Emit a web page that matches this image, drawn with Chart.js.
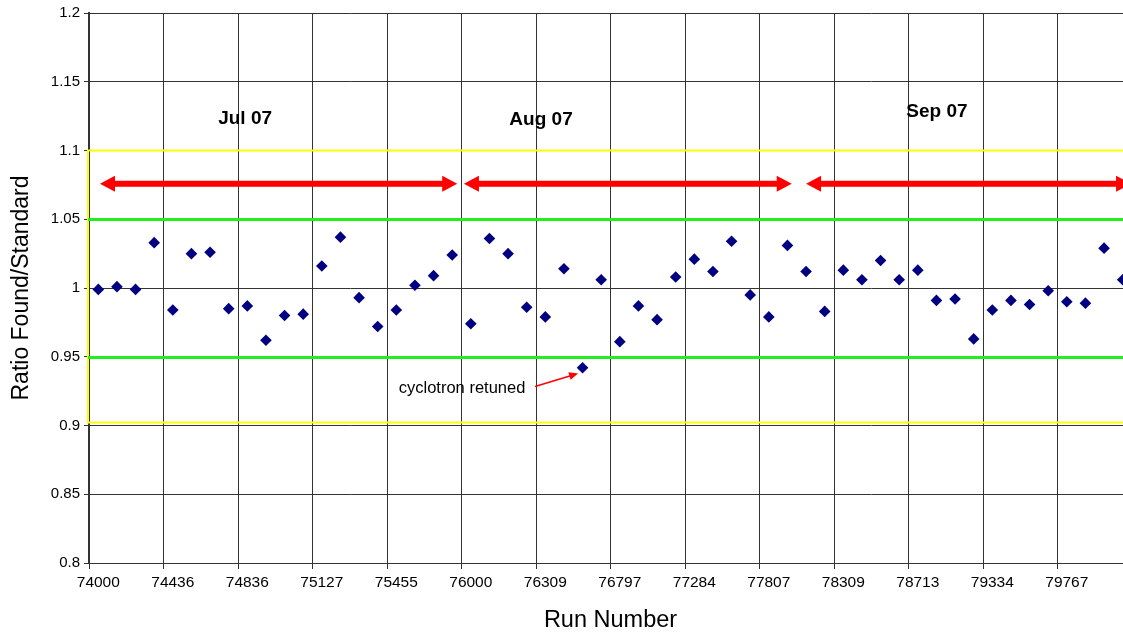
<!DOCTYPE html>
<html>
<head>
<meta charset="utf-8">
<title>Ratio Found/Standard by Run Number</title>
<script src="https://cdn.jsdelivr.net/npm/chart.js@4.4.1/dist/chart.umd.min.js"></script>
<style>
  html, body { margin: 0; padding: 0; background: #fff; overflow: hidden; }
  #wrap { width: 1123px; height: 635px; overflow: hidden; position: relative; }
  canvas { display: block; }
</style>
</head>
<body>
<div id="wrap"><canvas id="c" width="1160" height="635"></canvas></div>
<script>
// Run-number labels shown on every fourth run
const runTicks = ['74000', '74436', '74836', '75127', '75455', '76000', '76309',
                  '76797', '77284', '77807', '78309', '78713', '79334', '79767'];

// Ratio of found to standard value, one per run
const ratios = [
  0.999, 1.001, 0.999, 1.033, 0.984, 1.025, 1.026, 0.985,
  0.987, 0.962, 0.980, 0.981, 1.016, 1.037, 0.993, 0.972,
  0.984, 1.002, 1.009, 1.024, 0.974, 1.036, 1.025, 0.986,
  0.979, 1.014, 0.942, 1.006, 0.961, 0.987, 0.977, 1.008,
  1.021, 1.012, 1.034, 0.995, 0.979, 1.031, 1.012, 0.983,
  1.013, 1.006, 1.020, 1.006, 1.013, 0.991, 0.992, 0.963,
  0.984, 0.991, 0.988, 0.998, 0.990, 0.989, 1.029, 1.006
];

// Month names for the run periods
const months = ['Jul 07', 'Aug 07', 'Sep 07'];

// Acceptance limits
const warnLimits = [0.95, 1.05];
const outerLimits = [0.9025, 1.1];

// One category per run; only every fourth carries its run number
const labels = ratios.map((_, i) => (i % 4 === 0 ? (runTicks[i / 4] || '') : ''));

// Annotation layout, in run-index / ratio units
const periodArrows = [[0.09, 19.27], [19.63, 37.23], [38.0, 55.45]];
const arrowLevel = 1.0758;
const monthLabelPos = [[7.88, 1.123], [23.77, 1.1223], [45.03, 1.128]];
const noteText = 'cyclotron retuned';
const notePos = [19.53, 0.9273];
const noteArrow = [[23.45, 0.9284], [25.76, 0.9379]];

const FONT = '"Liberation Sans", Arial, sans-serif';
Chart.defaults.font.family = FONT;
Chart.defaults.color = '#000';

function drawArrowHead(ctx, tipX, tipY, dir, len, half) {
  ctx.beginPath();
  ctx.moveTo(tipX, tipY);
  ctx.lineTo(tipX - dir * len, tipY - half);
  ctx.lineTo(tipX - dir * len, tipY + half);
  ctx.closePath();
  ctx.fill();
}

const limitLines = {
  id: 'limitLines',
  beforeDatasetsDraw(chart) {
    const { ctx, chartArea: a, scales: { y } } = chart;
    ctx.save();
    // yellow outer box
    ctx.strokeStyle = '#ffff00';
    ctx.lineWidth = 2;
    const yTop = Math.round(y.getPixelForValue(outerLimits[1])) + 0.5;
    const yBot = Math.round(y.getPixelForValue(outerLimits[0])) + 0.5;
    ctx.beginPath();
    ctx.moveTo(a.right + 20, yTop);
    ctx.lineTo(a.left - 1, yTop);
    ctx.lineTo(a.left - 1, yBot);
    ctx.lineTo(a.right + 20, yBot);
    ctx.stroke();
    // green warning lines
    ctx.strokeStyle = '#22ee22';
    ctx.lineWidth = 3;
    warnLimits.forEach(v => {
      const py = Math.round(y.getPixelForValue(v)) + 0.5;
      ctx.beginPath();
      ctx.moveTo(a.left - 1, py);
      ctx.lineTo(a.right + 20, py);
      ctx.stroke();
    });
    ctx.restore();
  },
  afterDatasetsDraw(chart) {
    const { ctx, scales: { x, y } } = chart;
    ctx.save();
    // red period arrows
    ctx.fillStyle = '#ff0000';
    const py = y.getPixelForValue(arrowLevel);
    periodArrows.forEach(([a0, a1]) => {
      const x0 = x.getPixelForValue(a0);
      const x1 = x.getPixelForValue(a1);
      ctx.fillRect(x0 + 12, py - 3, (x1 - x0) - 24, 6);
      drawArrowHead(ctx, x0, py, -1, 15, 8);
      drawArrowHead(ctx, x1, py, 1, 15, 8);
    });
    // month captions
    ctx.fillStyle = '#000';
    ctx.font = 'bold 19px ' + FONT;
    ctx.textAlign = 'center';
    ctx.textBaseline = 'middle';
    months.forEach((m, i) => {
      const [ix, v] = monthLabelPos[i];
      ctx.fillText(m, x.getPixelForValue(ix), y.getPixelForValue(v));
    });
    // note and its pointer
    ctx.font = '16.5px ' + FONT;
    ctx.fillText(noteText, x.getPixelForValue(notePos[0]), y.getPixelForValue(notePos[1]));
    const sx = x.getPixelForValue(noteArrow[0][0]), sy = y.getPixelForValue(noteArrow[0][1]);
    const ex = x.getPixelForValue(noteArrow[1][0]), ey = y.getPixelForValue(noteArrow[1][1]);
    const ang = Math.atan2(ey - sy, ex - sx);
    ctx.strokeStyle = '#ff0000';
    ctx.fillStyle = '#ff0000';
    ctx.lineWidth = 1.6;
    ctx.beginPath();
    ctx.moveTo(sx, sy);
    ctx.lineTo(ex - 7 * Math.cos(ang), ey - 7 * Math.sin(ang));
    ctx.stroke();
    ctx.translate(ex, ey);
    ctx.rotate(ang);
    ctx.beginPath();
    ctx.moveTo(0, 0);
    ctx.lineTo(-9, -4);
    ctx.lineTo(-9, 4);
    ctx.closePath();
    ctx.fill();
    ctx.restore();
  }
};

new Chart(document.getElementById('c'), {
  type: 'line',
  data: {
    labels: labels,
    datasets: [{
      data: ratios,
      showLine: false,
      pointStyle: 'rectRot',
      pointRadius: 5.8,
      pointBackgroundColor: '#000080',
      pointBorderColor: '#000080',
      pointBorderWidth: 0
    }]
  },
  options: {
    responsive: false,
    animation: false,
    events: [],
    layout: { padding: { top: 12, right: 28, left: 0, bottom: 0 } },
    plugins: { legend: { display: false }, tooltip: { enabled: false } },
    scales: {
      x: {
        offset: true,
        grid: {
          offset: true,
          color: c => (c.index % 4 === 0 ? '#333' : 'rgba(0,0,0,0)'),
          tickLength: 6
        },
        border: { color: '#333', width: 1 },
        ticks: {
          autoSkip: false,
          maxRotation: 0,
          minRotation: 0,
          padding: 4,
          font: { size: 15.5 },
          callback: (v, i) => labels[i]
        },
        title: {
          display: true,
          text: 'Run Number',
          font: { size: 23.5 },
          padding: { top: 0, bottom: 0 }
        },
        afterFit: s => { s.height = 72; }
      },
      y: {
        min: 0.8,
        max: 1.2,
        grid: { color: '#333', tickLength: 5 },
        border: { color: '#333', width: 2 },
        ticks: {
          stepSize: 0.05,
          padding: 4,
          font: { size: 15 },
          callback: v => String(Number(v.toFixed(2)))
        },
        title: {
          display: true,
          text: 'Ratio Found/Standard',
          font: { size: 23 },
          padding: { top: 8, bottom: 0 }
        },
        afterFit: s => { s.width = 89; }
      }
    }
  },
  plugins: [limitLines]
});
</script>
</body>
</html>
